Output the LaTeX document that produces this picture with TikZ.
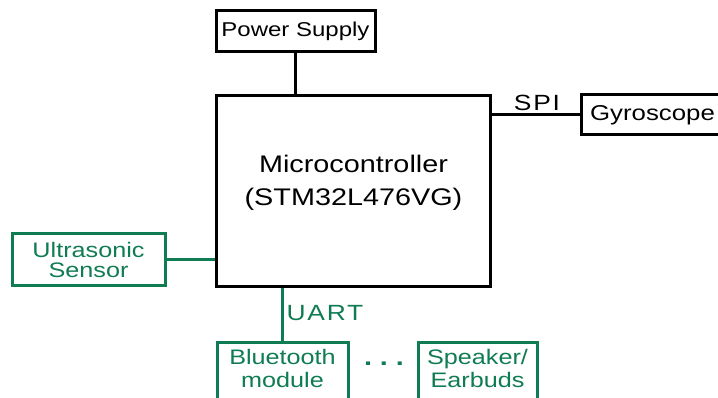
\documentclass[tikz,border=0pt]{standalone}
\usepackage{fontspec}
\setmainfont[FakeStretch=1.2]{Liberation Sans}
\definecolor{hwgreen}{RGB}{16,124,84}
\begin{document}
\begin{tikzpicture}[x=1pt,y=-1pt,
  blk/.style={draw=black,line width=3pt,rectangle,inner sep=0pt,align=center},
  gblk/.style={draw=hwgreen,text=hwgreen,line width=3pt,rectangle,inner sep=0pt,align=center},
  wire/.style={draw=black,line width=3pt},
  gwire/.style={draw=hwgreen,line width=3pt},
  lbl/.style={inner sep=0pt,font=\fontsize{22}{22}\selectfont\addfontfeature{LetterSpace=8}}
]
\clip (0,0) rectangle (718,398);
\fill[white] (0,0) rectangle (718,398);
\node[blk,minimum width=159pt,minimum height=41pt,font=\fontsize{20}{20}\selectfont] (power) at (295.5,31) {Power Supply};
\node[blk,minimum width=274pt,minimum height=191pt,font=\fontsize{24}{24}\selectfont] (mcu) at (353.5,191) {\raisebox{1pt}[0pt][0pt]{\begin{tabular}{@{}c@{}}Microcontroller\\[9pt](STM32L476VG)\end{tabular}}};
\node[blk,minimum width=140pt,minimum height=40pt,anchor=west,font=\fontsize{21.5}{22}\selectfont] (gyro) at (580,115) {\hspace*{2pt}\raisebox{2pt}{Gyroscope}};
\node[gblk,minimum width=153pt,minimum height=52pt,font=\fontsize{21}{20}\selectfont] (us) at (88.5,260) {Ultrasonic\\Sensor};
\node[gblk,minimum width=131pt,minimum height=64pt,anchor=north,font=\fontsize{21}{23}\selectfont] (bt) at (282.5,341) {\raisebox{-2pt}[0pt][0pt]{\begin{tabular}{@{}c@{}}Bluetooth\\module\end{tabular}}};
\node[gblk,minimum width=119pt,minimum height=64pt,anchor=north,font=\fontsize{21}{23}\selectfont] (spk) at (477.5,341) {\raisebox{-2pt}[0pt][0pt]{\begin{tabular}{@{}c@{}}Speaker/\\Earbuds\end{tabular}}};
\path[wire] (power.south) -- (power.south |- mcu.north);
\path[wire] (gyro.west) -- (gyro.west -| mcu.east);
\path[gwire] (us.east) -- (us.east -| mcu.west);
\path[gwire] (bt.north) -- (bt.north |- mcu.south);
\node[lbl] (spi) at (537,103) {SPI};
\node[lbl,text=hwgreen] (uart) at (325,313) {UART};
\node[inner sep=0pt,text=hwgreen,font=\fontsize{24}{24}\selectfont\bfseries] (dots) at (384,364) {.\hspace{8pt}.\hspace{8pt}.};
\end{tikzpicture}
\end{document}
